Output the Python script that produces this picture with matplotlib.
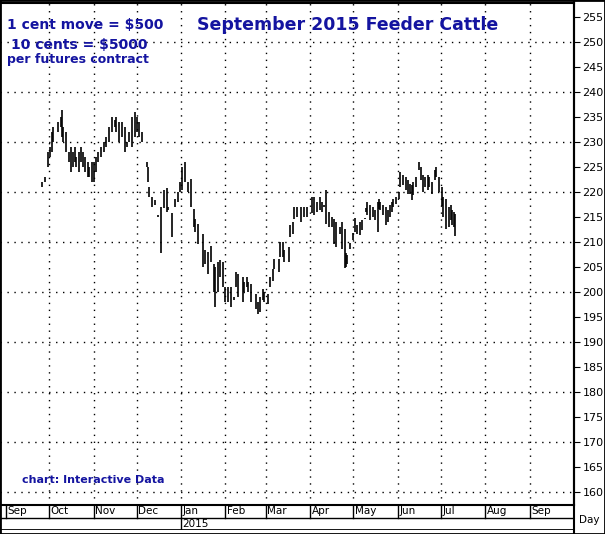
import matplotlib
matplotlib.use("Agg")
import matplotlib.pyplot as plt

# days since 2014-09-01, high, low
days = [25,27,29,31,32,33,36,38,39,40,42,44,45,47,48,49,51,52,54,55,57,58,60,61,63,64,66,68,70,72,74,76,77,79,81,83,84,86,88,90,91,93,95,98,99,100,102,104,106,108,110,112,113,116,118,120,121,123,125,127,129,131,132,134,137,139,141,143,145,146,148,149,151,153,155,157,159,160,162,165,166,168,169,171,174,176,177,179,180,183,184,186,187,190,191,193,194,197,198,200,201,203,206,208,210,213,215,217,219,220,222,223,225,227,229,230,231,233,234,236,237,238,240,242,243,245,247,248,250,251,252,254,256,257,259,260,261,263,265,266,268,269,270,272,274,275,277,279,280,282,283,284,286,288,289,291,292,294,295,297,299,300,302,304,305,307,309,310,311,312,313]
highs = [222,223,228,229,232,233,234,235,236.5,233,232,228,229,228,229,227,228,229,228,227,226,225,226,226,227,228,229,230,231,233,235,234.5,235,234,234,233,230,232,235,236,235,234,232,226,225,221,219,218.5,215.5,217,220.4,220.8,217,215.8,218.6,220,222,225,226,222,222.6,216.6,214.6,213.6,211.6,208.4,208,209.3,205.6,205,206,206.4,206,201,201,201,199,204,203.6,203,202,203,202,201.6,199.6,198,199,200.6,200,199.6,203,204.6,206.6,206.6,210,210,208.4,209,213.4,214,217,217,217,217,217,219,219,218,219,218,217.5,220.4,216,215,214.6,214,211,213,214,212.6,207.8,207.5,208.6,211.8,214.8,213.5,214,214.5,214.8,216.8,218,217.5,217,216.5,218,218.6,218,217.5,217,216.5,217.5,218,218.6,219,220,224,223.5,223,222.5,221.6,221.5,222,223,226,225,223.5,223,223.5,223,222,224.4,225,223,221,219,218.6,217,217.5,216.5,216,215.6]
lows = [221,222,225,227,228,230,232,233,231,230,228,226,224,225,226,225,224,226,225,224,223,223,222,222,224,226,227,228,229,230,232,233,232,230,231,228,229,230,229,231,232,231,230,225,222,219,217,217.5,215,207.8,216.8,216,216.5,211,217,218,220,220.4,222,220,217,213,212,209.6,205,205.6,203.6,206,200,197,200,203,201,198,198,197,198.5,201,199,198,200,201,200,198,196.6,195.7,196,198.5,198,197.6,201,202.3,204.6,204,207,207,206,206,211,211.6,214.6,215,214,215,215,215.8,215.5,216,216.5,216,217,213.6,213,213,209.6,209,211,211.6,208.6,204.8,205,205.6,209.8,210.4,212,211.6,211.5,212.4,214.6,216,215.5,214.5,215,214.5,212,216.6,216.5,215.5,213.5,214,215,216,217,217.6,218.6,221,221.5,220.5,219.6,219.6,218.5,219.5,221,224.4,222.5,220,221,220.5,221,219.6,222.4,223,220,217.3,215,212.6,213,214.5,213.5,213,211.3]

month_days = [0,30,61,91,122,153,181,212,242,273,303,334,365]
month_labels = ["Sep","Oct","Nov","Dec","Jan","Feb","Mar","Apr","May","Jun","Jul","Aug","Sep"]
price_ticks = list(range(160, 256, 5))

W, H = 605, 534
fig = plt.figure(figsize=(W/100, H/100), dpi=100)
blue = "#1414a0"
xmin, xmax = -4.2, 396

ax = fig.add_axes([0, (534-505)/H, 574/W, 502/H])
ax.vlines(days, lows, highs, color="black", lw=1.2)
ax.set_xlim(xmin, xmax)
ax.set_ylim(157.4, 257.8)
ax.set_xticks(month_days[1:])
ax.set_xticklabels([])
ax.tick_params(axis="x", length=0)
ax.yaxis.tick_right()
ax.set_yticks(price_ticks)
ax.set_yticklabels([str(t) for t in price_ticks], fontsize=8)
ax.tick_params(axis="y", length=4, direction="out", pad=2)
for t in range(160, 256, 10):
    ax.axhline(t, color="black", lw=1, ls=(0, (1, 4)))
for d in month_days[1:]:
    ax.axvline(d, color="black", lw=1, ls=(0, (1, 4)))
for s in ax.spines.values():
    s.set_linewidth(1.5)

ax.text(0.012, 0.97, "1 cent move = $500", transform=ax.transAxes, color=blue, fontsize=10, fontweight="bold", va="top")
ax.text(0.02, 0.93, "10 cents = $5000", transform=ax.transAxes, color=blue, fontsize=10, fontweight="bold", va="top")
ax.text(0.012, 0.90, "per futures contract", transform=ax.transAxes, color=blue, fontsize=9, fontweight="bold", va="top")
ax.text(348/574, 0.975, "September 2015 Feeder Cattle", transform=ax.transAxes, color=blue, fontsize=12.5, fontweight="bold", va="top", ha="center")
ax.text(22/574, 0.05, "chart: Interactive Data", transform=ax.transAxes, color=blue, fontsize=8, fontweight="bold", va="center")

bx = fig.add_axes([0, 4/H, 574/W, 25/H])
bx.set_xlim(xmin, xmax)
bx.set_ylim(0, 2)
bx.axis("off")
bx.axhline(1, color="black", lw=1)
bx.axhline(0, color="black", lw=2)
for d, lab in zip(month_days, month_labels):
    bx.plot([d, d], [1, 2], color="black", lw=1)
    bx.text(d + 1.2, 1.5, lab, fontsize=7.5, va="center", ha="left")
bx.plot([122, 122], [0, 1], color="black", lw=1)
bx.text(123.2, 0.5, "2015", fontsize=7.5, va="center", ha="left")
fig.text(589/W, 1 - 520/H, "Day", fontsize=7.5, ha="center", va="center")

fig.add_artist(plt.Rectangle((0, 0), 1, 1, transform=fig.transFigure, fill=False, lw=2, ec="black"))
fig.add_artist(plt.Line2D([574/W, 574/W], [0, 1], transform=fig.transFigure, color="black", lw=1.5))
fig.savefig("out.png", dpi=100)
